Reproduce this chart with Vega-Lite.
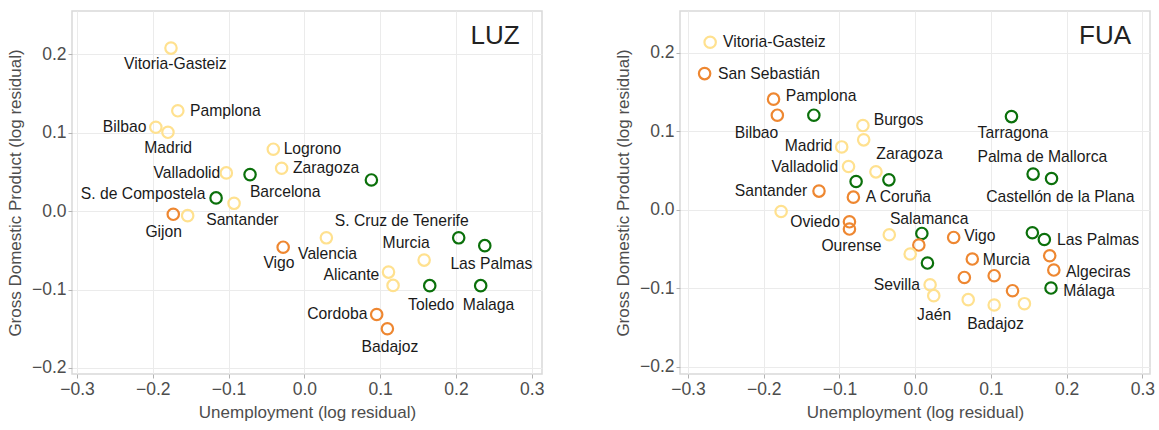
{
  "$schema": "https://vega.github.io/schema/vega-lite/v6.json",
  "padding": {"left": 5, "top": 10, "right": 5, "bottom": 5},
  "config": {
    "font": "Liberation Sans",
    "view": {"stroke": "#d9d9d9", "strokeWidth": 1.5},
    "axis": {"grid": true, "gridColor": "#ebebeb", "gridWidth": 1, "domain": false, "tickColor": "#b3b3b3", "tickSize": 4, "labelFontSize": 17.5, "labelColor": "#4d4d4d", "titleFontSize": 17, "titleColor": "#4d4d4d", "titleFontWeight": "normal", "labelPadding": 2, "titlePadding": 7},
    "concat": {"spacing": 68}
  },
  "datasets": {
    "points": [
      {"panel": "LUZ", "city": "Vitoria-Gasteiz", "grp": "Y", "x": -0.176, "y": 0.208},
      {"panel": "LUZ", "city": "Pamplona", "grp": "Y", "x": -0.167, "y": 0.128},
      {"panel": "LUZ", "city": "Bilbao", "grp": "Y", "x": -0.196, "y": 0.107},
      {"panel": "LUZ", "city": "Madrid", "grp": "Y", "x": -0.180, "y": 0.1006},
      {"panel": "LUZ", "city": "Logrono", "grp": "Y", "x": -0.041, "y": 0.079},
      {"panel": "LUZ", "city": "Zaragoza", "grp": "Y", "x": -0.030, "y": 0.0547},
      {"panel": "LUZ", "city": "Valladolid", "grp": "Y", "x": -0.103, "y": 0.0488},
      {"panel": "LUZ", "city": "Barcelona", "grp": "G", "x": -0.0717, "y": 0.0466},
      {"panel": "LUZ", "city": "S. de Compostela", "grp": "G", "x": -0.1165, "y": 0.0169},
      {"panel": "LUZ", "city": "Santander", "grp": "Y", "x": -0.0928, "y": 0.010},
      {"panel": "LUZ", "city": "", "grp": "G", "x": 0.0884, "y": 0.0398},
      {"panel": "LUZ", "city": "Gijon", "grp": "O", "x": -0.173, "y": -0.004},
      {"panel": "LUZ", "city": "", "grp": "Y", "x": -0.154, "y": -0.0057},
      {"panel": "LUZ", "city": "Vigo", "grp": "O", "x": -0.028, "y": -0.046},
      {"panel": "LUZ", "city": "Valencia", "grp": "Y", "x": 0.029, "y": -0.034},
      {"panel": "LUZ", "city": "S. Cruz de Tenerife", "grp": "G", "x": 0.2036, "y": -0.034},
      {"panel": "LUZ", "city": "Las Palmas", "grp": "G", "x": 0.238, "y": -0.044},
      {"panel": "LUZ", "city": "Murcia", "grp": "Y", "x": 0.158, "y": -0.0624},
      {"panel": "LUZ", "city": "Alicante", "grp": "Y", "x": 0.111, "y": -0.0777},
      {"panel": "LUZ", "city": "", "grp": "Y", "x": 0.117, "y": -0.0947},
      {"panel": "LUZ", "city": "Toledo", "grp": "G", "x": 0.1654, "y": -0.095},
      {"panel": "LUZ", "city": "Malaga", "grp": "G", "x": 0.2326, "y": -0.095},
      {"panel": "LUZ", "city": "Cordoba", "grp": "O", "x": 0.0954, "y": -0.1318},
      {"panel": "LUZ", "city": "Badajoz", "grp": "O", "x": 0.1095, "y": -0.150},
      {"panel": "FUA", "city": "Vitoria-Gasteiz", "grp": "Y", "x": -0.2707, "y": 0.2132},
      {"panel": "FUA", "city": "San Sebastián", "grp": "O", "x": -0.278, "y": 0.1733},
      {"panel": "FUA", "city": "Pamplona", "grp": "O", "x": -0.187, "y": 0.1408},
      {"panel": "FUA", "city": "Bilbao", "grp": "O", "x": -0.182, "y": 0.1204},
      {"panel": "FUA", "city": "", "grp": "G", "x": -0.1338, "y": 0.1204},
      {"panel": "FUA", "city": "Burgos", "grp": "Y", "x": -0.069, "y": 0.1072},
      {"panel": "FUA", "city": "", "grp": "Y", "x": -0.068, "y": 0.089},
      {"panel": "FUA", "city": "Madrid", "grp": "Y", "x": -0.097, "y": 0.080},
      {"panel": "FUA", "city": "Valladolid", "grp": "Y", "x": -0.088, "y": 0.0551},
      {"panel": "FUA", "city": "Zaragoza", "grp": "Y", "x": -0.0518, "y": 0.0483},
      {"panel": "FUA", "city": "", "grp": "G", "x": -0.078, "y": 0.036},
      {"panel": "FUA", "city": "", "grp": "G", "x": -0.0347, "y": 0.0381},
      {"panel": "FUA", "city": "Santander", "grp": "O", "x": -0.127, "y": 0.0238},
      {"panel": "FUA", "city": "A Coruña", "grp": "O", "x": -0.0816, "y": 0.0161},
      {"panel": "FUA", "city": "", "grp": "Y", "x": -0.177, "y": -0.0022},
      {"panel": "FUA", "city": "Oviedo", "grp": "O", "x": -0.0868, "y": -0.0153},
      {"panel": "FUA", "city": "Ourense", "grp": "O", "x": -0.0868, "y": -0.0245},
      {"panel": "FUA", "city": "", "grp": "Y", "x": -0.0342, "y": -0.0318},
      {"panel": "FUA", "city": "Salamanca", "grp": "G", "x": 0.0088, "y": -0.0301},
      {"panel": "FUA", "city": "", "grp": "O", "x": 0.0048, "y": -0.0449},
      {"panel": "FUA", "city": "", "grp": "Y", "x": -0.0066, "y": -0.0563},
      {"panel": "FUA", "city": "", "grp": "G", "x": 0.0162, "y": -0.0678},
      {"panel": "FUA", "city": "Sevilla", "grp": "Y", "x": 0.0197, "y": -0.0954},
      {"panel": "FUA", "city": "Jaén", "grp": "Y", "x": 0.0245, "y": -0.1093},
      {"panel": "FUA", "city": "Vigo", "grp": "O", "x": 0.0508, "y": -0.0352},
      {"panel": "FUA", "city": "Murcia", "grp": "O", "x": 0.0754, "y": -0.0627},
      {"panel": "FUA", "city": "", "grp": "O", "x": 0.0649, "y": -0.0861},
      {"panel": "FUA", "city": "", "grp": "O", "x": 0.1043, "y": -0.0839},
      {"panel": "FUA", "city": "", "grp": "O", "x": 0.1285, "y": -0.103},
      {"panel": "FUA", "city": "", "grp": "Y", "x": 0.070, "y": -0.1144},
      {"panel": "FUA", "city": "Badajoz", "grp": "Y", "x": 0.1043, "y": -0.1212},
      {"panel": "FUA", "city": "", "grp": "Y", "x": 0.1442, "y": -0.1195},
      {"panel": "FUA", "city": "", "grp": "G", "x": 0.1547, "y": -0.0292},
      {"panel": "FUA", "city": "Las Palmas", "grp": "G", "x": 0.1705, "y": -0.0378},
      {"panel": "FUA", "city": "", "grp": "O", "x": 0.1776, "y": -0.0585},
      {"panel": "FUA", "city": "Algeciras", "grp": "O", "x": 0.183, "y": -0.0767},
      {"panel": "FUA", "city": "Málaga", "grp": "G", "x": 0.1793, "y": -0.0996},
      {"panel": "FUA", "city": "Tarragona", "grp": "G", "x": 0.1271, "y": 0.1186},
      {"panel": "FUA", "city": "Palma de Mallorca", "grp": "G", "x": 0.1557, "y": 0.0454},
      {"panel": "FUA", "city": "Castellón de la Plana", "grp": "G", "x": 0.180, "y": 0.0398}
    ],
    "labels": [
      {"panel": "LUZ", "name": "Vitoria-Gasteiz", "lx": -0.1702, "ly": 0.188},
      {"panel": "LUZ", "name": "Pamplona", "lx": -0.1042, "ly": 0.128},
      {"panel": "LUZ", "name": "Bilbao", "lx": -0.2372, "ly": 0.107},
      {"panel": "LUZ", "name": "Madrid", "lx": -0.1798, "ly": 0.0811},
      {"panel": "LUZ", "name": "Logrono", "lx": 0.0106, "ly": 0.0794},
      {"panel": "LUZ", "name": "Zaragoza", "lx": 0.0286, "ly": 0.0547},
      {"panel": "LUZ", "name": "Valladolid", "lx": -0.155, "ly": 0.0483},
      {"panel": "LUZ", "name": "Barcelona", "lx": -0.0253, "ly": 0.0249},
      {"panel": "LUZ", "name": "S. de Compostela", "lx": -0.2127, "ly": 0.022},
      {"panel": "LUZ", "name": "Santander", "lx": -0.0818, "ly": -0.0109},
      {"panel": "LUZ", "name": "Gijon", "lx": -0.1856, "ly": -0.0271},
      {"panel": "LUZ", "name": "Vigo", "lx": -0.0335, "ly": -0.066},
      {"panel": "LUZ", "name": "Valencia", "lx": 0.0306, "ly": -0.0547},
      {"panel": "LUZ", "name": "S. Cruz de Tenerife", "lx": 0.1284, "ly": -0.013},
      {"panel": "LUZ", "name": "Murcia", "lx": 0.1342, "ly": -0.0411},
      {"panel": "LUZ", "name": "Las Palmas", "lx": 0.2467, "ly": -0.0674},
      {"panel": "LUZ", "name": "Alicante", "lx": 0.062, "ly": -0.082},
      {"panel": "LUZ", "name": "Toledo", "lx": 0.1673, "ly": -0.1194},
      {"panel": "LUZ", "name": "Malaga", "lx": 0.243, "ly": -0.1194},
      {"panel": "LUZ", "name": "Cordoba", "lx": 0.0435, "ly": -0.1318},
      {"panel": "LUZ", "name": "Badajoz", "lx": 0.1128, "ly": -0.1727},
      {"panel": "FUA", "name": "Vitoria-Gasteiz", "lx": -0.186, "ly": 0.2132},
      {"panel": "FUA", "name": "San Sebastián", "lx": -0.193, "ly": 0.1733},
      {"panel": "FUA", "name": "Pamplona", "lx": -0.1243, "ly": 0.145},
      {"panel": "FUA", "name": "Bilbao", "lx": -0.2095, "ly": 0.0983},
      {"panel": "FUA", "name": "Burgos", "lx": -0.022, "ly": 0.1144},
      {"panel": "FUA", "name": "Madrid", "lx": -0.1407, "ly": 0.081},
      {"panel": "FUA", "name": "Valladolid", "lx": -0.1457, "ly": 0.0547},
      {"panel": "FUA", "name": "Zaragoza", "lx": -0.0075, "ly": 0.0708},
      {"panel": "FUA", "name": "Santander", "lx": -0.1904, "ly": 0.0238},
      {"panel": "FUA", "name": "A Coruña", "lx": -0.0222, "ly": 0.0161},
      {"panel": "FUA", "name": "Oviedo", "lx": -0.1321, "ly": -0.0153},
      {"panel": "FUA", "name": "Ourense", "lx": -0.0841, "ly": -0.0467},
      {"panel": "FUA", "name": "Salamanca", "lx": 0.0184, "ly": -0.0118},
      {"panel": "FUA", "name": "Sevilla", "lx": -0.0242, "ly": -0.0954},
      {"panel": "FUA", "name": "Jaén", "lx": 0.025, "ly": -0.1335},
      {"panel": "FUA", "name": "Vigo", "lx": 0.0853, "ly": -0.0334},
      {"panel": "FUA", "name": "Murcia", "lx": 0.1204, "ly": -0.0636},
      {"panel": "FUA", "name": "Badajoz", "lx": 0.106, "ly": -0.1453},
      {"panel": "FUA", "name": "Las Palmas", "lx": 0.2414, "ly": -0.0381},
      {"panel": "FUA", "name": "Algeciras", "lx": 0.2418, "ly": -0.0788},
      {"panel": "FUA", "name": "Málaga", "lx": 0.2293, "ly": -0.103},
      {"panel": "FUA", "name": "Tarragona", "lx": 0.129, "ly": 0.0979},
      {"panel": "FUA", "name": "Palma de Mallorca", "lx": 0.1679, "ly": 0.067},
      {"panel": "FUA", "name": "Castellón de la Plana", "lx": 0.1916, "ly": 0.0165}
    ],
    "titles": [
      {"panel": "LUZ", "t": "LUZ", "tx": 0.284, "ty": 0.223},
      {"panel": "FUA", "t": "FUA", "tx": 0.285, "ty": 0.221}
    ]
  },
  "hconcat": [
    {
      "width": 470,
      "height": 363,
      "layer": [
        {
          "mark": {"type": "rule", "color": "#808080", "strokeDash": [2, 2], "strokeWidth": 1},
          "encoding": {
            "x": {"datum": 0, "type": "quantitative", "scale": {"domain": [-0.3066, 0.3135], "nice": false, "zero": false}, "title": "Unemployment (log residual)", "axis": {"values": [-0.3, -0.2, -0.1, 0, 0.1, 0.2, 0.3], "format": ".1f"}}
          }
        },
        {
          "mark": {"type": "rule", "color": "#808080", "strokeDash": [2, 2], "strokeWidth": 1},
          "encoding": {
            "y": {"datum": 0, "type": "quantitative", "scale": {"domain": [-0.2077, 0.2553], "nice": false, "zero": false}, "title": "Gross Domestic Product (log residual)", "axis": {"values": [-0.2, -0.1, 0, 0.1, 0.2], "format": ".1f"}}
          }
        },
        {
          "data": {"name": "points"},
          "transform": [{"filter": "datum.panel === 'LUZ'"}],
          "mark": {"type": "point", "shape": "circle", "filled": false, "size": 130, "strokeWidth": 2.2, "opacity": 1},
          "encoding": {
            "x": {"field": "x", "type": "quantitative", "title": "Unemployment (log residual)"},
            "y": {"field": "y", "type": "quantitative", "title": "Gross Domestic Product (log residual)"},
            "color": {"field": "grp", "type": "nominal", "scale": {"domain": ["Y", "O", "G"], "range": ["#FFE18F", "#EE8731", "#0B700B"]}, "legend": null}
          }
        },
        {
          "data": {"name": "labels"},
          "transform": [{"filter": "datum.panel === 'LUZ'"}],
          "mark": {"type": "text", "fontSize": 15.7, "color": "#1a1a1a", "align": "center", "baseline": "middle"},
          "encoding": {
            "x": {"field": "lx", "type": "quantitative", "title": "Unemployment (log residual)"},
            "y": {"field": "ly", "type": "quantitative", "title": "Gross Domestic Product (log residual)"},
            "text": {"field": "name"}
          }
        },
        {
          "data": {"name": "titles"},
          "transform": [{"filter": "datum.panel === 'LUZ'"}],
          "mark": {"type": "text", "fontSize": 26, "color": "#222222", "align": "right", "baseline": "middle"},
          "encoding": {
            "x": {"field": "tx", "type": "quantitative", "title": "Unemployment (log residual)"},
            "y": {"field": "ty", "type": "quantitative", "title": "Gross Domestic Product (log residual)"},
            "text": {"field": "t"}
          }
        }
      ]
    },
    {
      "width": 470,
      "height": 363,
      "layer": [
        {
          "mark": {"type": "rule", "color": "#808080", "strokeDash": [2, 2], "strokeWidth": 1},
          "encoding": {
            "x": {"datum": 0, "type": "quantitative", "scale": {"domain": [-0.3105, 0.310], "nice": false, "zero": false}, "title": "Unemployment (log residual)", "axis": {"values": [-0.3, -0.2, -0.1, 0, 0.1, 0.2, 0.3], "format": ".1f"}}
          }
        },
        {
          "mark": {"type": "rule", "color": "#808080", "strokeDash": [2, 2], "strokeWidth": 1},
          "encoding": {
            "y": {"datum": 0, "type": "quantitative", "scale": {"domain": [-0.209, 0.253], "nice": false, "zero": false}, "title": "Gross Domestic Product (log residual)", "axis": {"values": [-0.2, -0.1, 0, 0.1, 0.2], "format": ".1f"}}
          }
        },
        {
          "data": {"name": "points"},
          "transform": [{"filter": "datum.panel === 'FUA'"}],
          "mark": {"type": "point", "shape": "circle", "filled": false, "size": 130, "strokeWidth": 2.2, "opacity": 1},
          "encoding": {
            "x": {"field": "x", "type": "quantitative", "title": "Unemployment (log residual)"},
            "y": {"field": "y", "type": "quantitative", "title": "Gross Domestic Product (log residual)"},
            "color": {"field": "grp", "type": "nominal", "scale": {"domain": ["Y", "O", "G"], "range": ["#FFE18F", "#EE8731", "#0B700B"]}, "legend": null}
          }
        },
        {
          "data": {"name": "labels"},
          "transform": [{"filter": "datum.panel === 'FUA'"}],
          "mark": {"type": "text", "fontSize": 15.7, "color": "#1a1a1a", "align": "center", "baseline": "middle"},
          "encoding": {
            "x": {"field": "lx", "type": "quantitative", "title": "Unemployment (log residual)"},
            "y": {"field": "ly", "type": "quantitative", "title": "Gross Domestic Product (log residual)"},
            "text": {"field": "name"}
          }
        },
        {
          "data": {"name": "titles"},
          "transform": [{"filter": "datum.panel === 'FUA'"}],
          "mark": {"type": "text", "fontSize": 26, "color": "#222222", "align": "right", "baseline": "middle"},
          "encoding": {
            "x": {"field": "tx", "type": "quantitative", "title": "Unemployment (log residual)"},
            "y": {"field": "ty", "type": "quantitative", "title": "Gross Domestic Product (log residual)"},
            "text": {"field": "t"}
          }
        }
      ]
    }
  ]
}
